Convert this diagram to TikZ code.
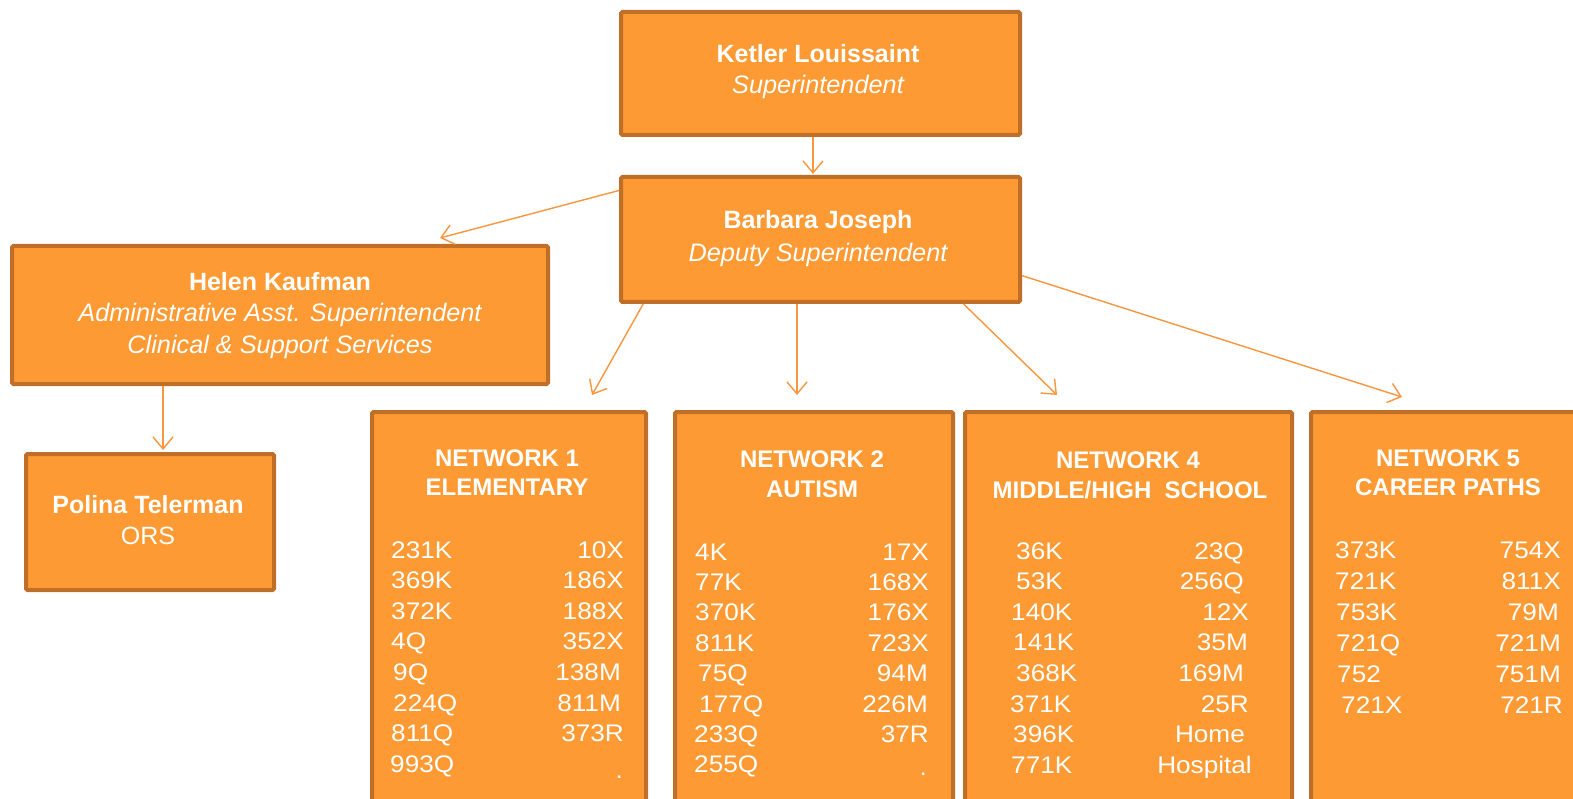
\documentclass[tikz,border=0pt]{standalone}
\usepackage{fontspec}
\setmainfont{Liberation Sans}
\newfontfamily\numfont[FakeStretch=1.09]{Liberation Sans}
\usetikzlibrary{arrows.meta,calc}
\definecolor{boxfill}{HTML}{FD9A34}
\definecolor{boxline}{HTML}{BF6F28}
\definecolor{arrline}{HTML}{F7963F}
\tikzset{
  box/.style={draw=boxline, fill=boxfill, line width=4pt, rounded corners=1.5pt, inner sep=0pt},
  txt/.style={text=white, inner sep=0pt, anchor=base},
  pname/.style={txt, font=\fontsize{25}{30}\selectfont\bfseries},
  prole/.style={txt, font=\fontsize{25.3}{30}\selectfont\itshape},
  pplain/.style={txt, font=\fontsize{25}{30}\selectfont},
  nhead/.style={txt, font=\fontsize{24}{29}\selectfont\bfseries},
  num/.style={txt, font=\numfont\fontsize{24}{29}\selectfont},
  arr/.style={draw=arrline, line width=1.4pt, -{Straight Barb[length=12pt,width=20pt,line width=1.4pt]}}
}
\begin{document}
\begin{tikzpicture}[x=1pt,y={(0pt,-1pt)}]
\useasboundingbox (0,0) rectangle (1573,799);
\clip (0,0) rectangle (1573,799);
\fill[white] (0,0) rectangle (1573,799);
% boxes
\node[box, minimum width=399pt, minimum height=123pt] (kl) at (820.5,73.5) {};
\node[box, minimum width=399pt, minimum height=125pt] (bj) at (820.5,239.5) {};
\node[box, minimum width=536pt, minimum height=138pt] (hk) at (280,315) {};
\node[box, minimum width=248pt, minimum height=136pt] (pt) at (150,522) {};
\node[box, minimum width=274pt, minimum height=420pt] (n1) at (509,622) {};
\node[box, minimum width=278pt, minimum height=420pt] (n2) at (814,622) {};
\node[box, minimum width=327pt, minimum height=420pt] (n4) at (1128.5,622) {};
\node[box, minimum width=274pt, minimum height=420pt] (n5) at (1448,622) {};
% top texts
\node[pname] (kln) at (818,63) {Ketler Louissaint};
\node[prole] (klr) at (818,94) {Superintendent};
\node[pname] (bjn) at (818,229) {Barbara Joseph};
\node[prole] (bjr) at (818,262) {Deputy Superintendent};
\node[pname] (hkn) at (280,291) {Helen Kaufman};
\node[prole] (hkr1) at (280,322) {Administrative Asst. Superintendent};
\node[prole] (hkr2) at (280,353) {Clinical \& Support Services};
\node[pname] (ptn) at (148,513) {Polina Telerman};
\node[pplain] (ptr) at (148,544) {ORS};
% network headers
\node[nhead] (h1a) at (507,466) {NETWORK 1};
\node[nhead] (h1b) at (507,495) {ELEMENTARY};
\node[nhead] (h2a) at (812,467) {NETWORK 2};
\node[nhead] (h2b) at (812,497) {AUTISM};
\node[nhead] (h4a) at (1128,468) {NETWORK 4};
\node[nhead] (h4b) at (1130,498) {MIDDLE/HIGH\ \ SCHOOL};
\node[nhead] (h5a) at (1448,466) {NETWORK 5};
\node[nhead] (h5b) at (1448,495) {CAREER PATHS};
% network 1
\foreach \x/\t [count=\i from 0] in {391/231K,391/369K,391/372K,391/4Q,393/9Q,393/224Q,391/811Q,390/993Q}
  \node[num, anchor=base west] (a1l\i) at (\x,558+\i*30.6) {\t};
\foreach \x/\t [count=\i from 0] in {624/10X,624/186X,624/188X,624/352X,621/138M,621/811M,624/373R}
  \node[num, anchor=base east] (a1r\i) at (\x,558+\i*30.6) {\t};
\node[num, anchor=base east] (a1dot) at (623,778) {.};
% network 2
\foreach \x/\t [count=\i from 0] in {695/4K,695/77K,695/370K,695/811K,698/75Q,699/177Q,694/233Q,694/255Q}
  \node[num, anchor=base west] (a2l\i) at (\x,560+\i*30.4) {\t};
\foreach \x/\t [count=\i from 0] in {929/17X,929/168X,929/176X,929/723X,928/94M,928/226M,929/37R}
  \node[num, anchor=base east] (a2r\i) at (\x,560+\i*30.4) {\t};
\node[num, anchor=base east] (a2dot) at (927,775) {.};
% network 4
\foreach \x/\t [count=\i from 0] in {1016/36K,1016/53K,1011/140K,1013/141K,1016/368K,1010/371K,1013/396K,1011/771K}
  \node[num, anchor=base west] (a4l\i) at (\x,559+\i*30.6) {\t};
\foreach \x/\t [count=\i from 0] in {1244/23Q,1244/256Q,1249/12X,1248/35M,1244/169M,1249/25R,1245/Home,1252/Hospital}
  \node[num, anchor=base east] (a4r\i) at (\x,559+\i*30.6) {\t};
% network 5
\foreach \x/\t [count=\i from 0] in {1335/373K,1335/721K,1336/753K,1336/721Q,1337/752,1341/721X}
  \node[num, anchor=base west] (a5l\i) at (\x,558+\i*31) {\t};
\foreach \x/\t [count=\i from 0] in {1561/754X,1561/811X,1559/79M,1561/721M,1561/751M,1563/721R}
  \node[num, anchor=base east] (a5r\i) at (\x,558+\i*31) {\t};
% arrow tips
\coordinate (tkb) at (813,174);
\coordinate (thk) at (440,238);
\coordinate (tpt) at (163,450);
\coordinate (tn1) at (592,395);
\coordinate (tn2) at (797,395);
\coordinate (tn4) at (1057,395);
\coordinate (tn5) at (1402,397);
% connectors
\draw[arr] (kl.south -| tkb) -- (tkb);
\draw[arr] ($(bj.north west)!0.12!(bj.south west)$) -- (thk);
\draw[arr] (hk.south -| tpt) -- (tpt);
\draw[arr] ($(bj.south west)!0.06!(bj.south east)$) -- (tn1);
\draw[arr] (bj.south -| tn2) -- (tn2);
\draw[arr] ($(bj.south west)!0.855!(bj.south east)$) -- (tn4);
\draw[arr] ($(bj.north east)!0.78!(bj.south east)$) -- (tn5);
\end{tikzpicture}
\end{document}
